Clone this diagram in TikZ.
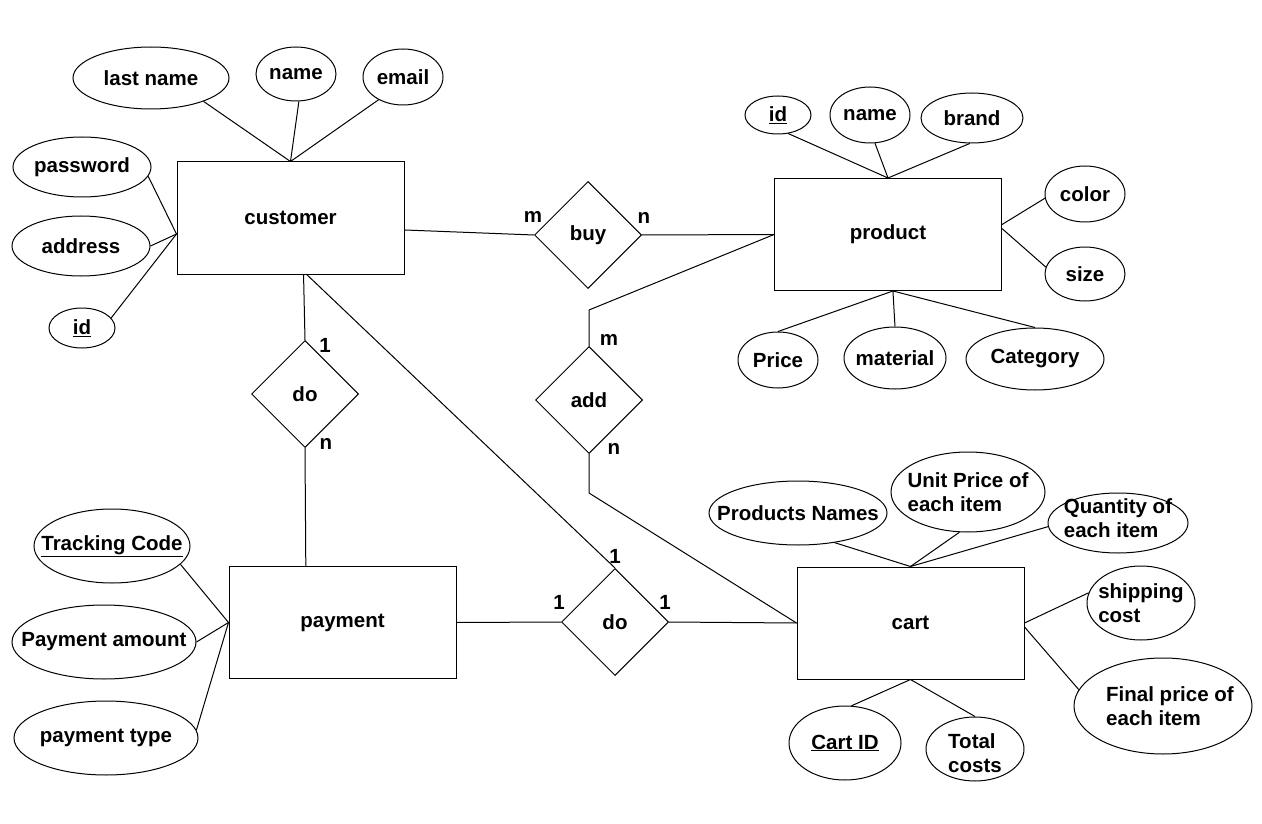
\documentclass[tikz,border=0pt]{standalone}
\usepackage{fontspec}
\setmainfont{Liberation Sans}
\usetikzlibrary{shapes.geometric}
\begin{document}
\begin{tikzpicture}[x=1pt,y=-1pt,line width=1pt,
	every node/.style={font=\bfseries\fontsize{20.5}{23.5}\selectfont},
	entity/.style={draw,rectangle,minimum width=227pt,minimum height=112pt},
	rel/.style={draw,diamond,minimum width=107pt,minimum height=107pt,inner sep=0pt},
	attr/.style 2 args={draw,ellipse,minimum width=#1,minimum height=#2,inner sep=0pt}]
	\fill[white] (0,0) rectangle (1262,824);
	\node[entity] (cust) at (290.5,218) {customer};
	\node[entity] (prod) at (888,234.5) {product};
	\node[entity] (pay) at (342.5,622.5) {payment};
	\node[entity] (cart) at (910.5,623) {cart};
	\node[rel] (buy) at (588,235) {buy};
	\node[rel] (do1) at (305,394) {do};
	\node[rel] (add) at (589,400) {add};
	\node[rel] (do2) at (615,622) {do};
	\node[attr={156pt}{62pt},label=center:last name] (lname) at (151,78) {};
	\node[attr={80pt}{54pt},label=center:name] (cname) at (296,74) {};
	\node[attr={80pt}{56pt},label=center:email] (email) at (403,77) {};
	\node[attr={138pt}{60pt},label=center:password] (pass) at (82,167) {};
	\node[attr={138pt}{60pt},label=center:address] (addr) at (81,246) {};
	\node[attr={66pt}{40pt},label=center:\underline{id}] (cid) at (82,328) {};
	\node[attr={66pt}{38pt},label=center:\underline{id}] (pid) at (778,115) {};
	\node[attr={80pt}{56pt},label=center:name] (pname) at (870,115) {};
	\node[attr={102pt}{50pt},label=center:brand] (brand) at (972,118) {};
	\node[attr={80pt}{56pt},label=center:color] (color) at (1085,194) {};
	\node[attr={80pt}{54pt},label=center:size] (size) at (1085,274) {};
	\node[attr={80pt}{56pt},label=center:Price] (price) at (778,360) {};
	\node[attr={102pt}{62pt},label=center:material] (mat) at (895,358) {};
	\node[attr={138pt}{62pt},label=center:Category] (cat) at (1035,359) {};
	\node[attr={156pt}{74pt},label=center:\underline{Tracking Code}] (track) at (112,546) {};
	\node[attr={184pt}{74pt},label=center:Payment amount] (amount) at (104,642) {};
	\node[attr={184pt}{74pt},label=center:payment type] (ptype) at (106,738) {};
	\node[attr={178pt}{64pt},label=center:Products Names] (pnames) at (798,513) {};
	\node[attr={154pt}{80pt},label={[align=left]center:Unit Price of\\each item}] (unit) at (968,492) {};
	\node[attr={140pt}{60pt},label={[align=left,yshift=5pt]center:Quantity of\\each item}] (qty) at (1118,523) {};
	\node[attr={108pt}{74pt},label={[align=left]center:shipping\\cost}] (ship) at (1141,603) {};
	\node[attr={178pt}{96pt},label={[align=left,xshift=7pt]center:Final price of\\each item}] (final) at (1163,706) {};
	\node[attr={112pt}{74pt},label=center:\underline{Cart ID}] (cartid) at (845,743) {};
	\node[attr={98pt}{64pt},label={[align=left,yshift=-4pt]center:Total\\costs}] (total) at (975,749) {};
	\coordinate (b1) at (589,310);
	\coordinate (b2) at (589,493);
	\node (m1) at (533,217) {m};
	\node (n1) at (644,218) {n};
	\node (o1) at (325,345) {1};
	\node (n2) at (326,444) {n};
	\node (m2) at (609,340) {m};
	\node (n3) at (614,449) {n};
	\node (o2) at (615,556) {1};
	\node (o3) at (559,602) {1};
	\node (o4) at (665,602) {1};
	\draw (lname.-24) -- (cust.north);
	\draw (cname.-84) -- (cust.north);
	\draw (email.223) -- (cust.north);
	\draw (pass.-8) -- (cust.188);
	\draw (addr.east) -- (cust.188);
	\draw (cid.19) -- (cust.188);
	\draw (cust.-6) -- (buy.west);
	\draw (buy.east) -- (prod.west);
	\draw (prod.west) -- (b1) -- (add.north);
	\draw (add.south) -- (b2) -- (cart.west);
	\draw (cust.-77) -- (do1.north);
	\draw (do1.south) -- (pay.123);
	\draw (cust.-74) -- (do2.north);
	\draw (pay.east) -- (do2.west);
	\draw (do2.east) -- (cart.west);
	\draw (pid.-61) -- (prod.north);
	\draw (pname.-80) -- (prod.north);
	\draw (brand.-95) -- (prod.north);
	\draw (color.186) -- (prod.5);
	\draw (size.170) -- (prod.3);
	\draw (price.north) -- (prod.-85);
	\draw (mat.north) -- (prod.-85);
	\draw (cat.north) -- (prod.-85);
	\draw (track.-15) -- (pay.west);
	\draw (amount.east) -- (pay.west);
	\draw (ptype.5) -- (pay.west);
	\draw (pnames.-39) -- (cart.north);
	\draw (unit.-102) -- (cart.north);
	\draw (qty.183) -- (cart.north);
	\draw (ship.169) -- (cart.east);
	\draw (final.169) -- (cart.-2);
	\draw (cartid.80) -- (cart.south);
	\draw (total.north) -- (cart.south);
\end{tikzpicture}
\end{document}
